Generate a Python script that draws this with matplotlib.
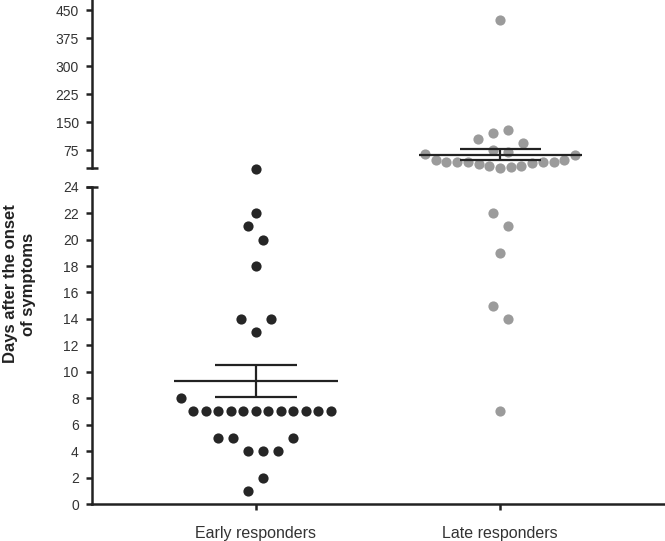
import numpy as np
import matplotlib
matplotlib.use("Agg")
import matplotlib.pyplot as plt

plt.rcParams["font.family"] = ["Liberation Sans", "DejaVu Sans"]

# Values, listed left to right inside each swarm row
categories = ["Early responders", "Late responders"]
early = [1, 2, 5, 5, 4, 4, 4, 5, 8, 7, 7, 7, 7, 7, 7, 7, 7, 7, 7, 7, 7,
         14, 13, 14, 18, 21, 20, 22, 26]
late = [7, 15, 14, 19, 22, 21,
        66, 48, 44, 44, 44, 39, 32, 28, 30, 32, 41, 44, 44, 48, 62,
        104, 75, 71, 95, 122, 129, 423]
groups = [early, late]
colors = ["#262626", "#9b9b9b"]

low_ticks = np.arange(0, 25, 2)
high_ticks = [75, 150, 225, 300, 375, 450]
low_lim = (0, 24)
high_lim = (26.8, 477.6)
break_at = 24

W, H = 665, 541
ink = "#222222"
lw = 1.8

fig = plt.figure(figsize=(W / 100, H / 100), dpi=100)
ax_lo = fig.add_axes([92 / W, 37 / H, 573 / W, 317.3 / H])
ax_hi = fig.add_axes([92 / W, 372.7 / H, 573 / W, 168.3 / H])
xlim = (-0.672, 1.676)


def px_per_unit(ax, lim):
    return ax.get_position().height * H / (lim[1] - lim[0])


def swarm_offsets(vals, ppu, ppx, row_h=15, step=15, max_w=150):
    # rows of points that lie within row_h pixels, spread side by side
    vals = np.asarray(vals, float)
    order = np.argsort(vals, kind="stable")
    offs = np.zeros(len(vals))
    i = 0
    while i < len(order):
        start = vals[order[i]]
        j = i
        while j < len(order) and (vals[order[j]] - start) * ppu <= row_h:
            j += 1
        members = np.sort(order[i:j])
        n = len(members)
        sp = step if n < 2 else min(step, max_w / (n - 1))
        offs[members] = (np.arange(n) - (n - 1) / 2) * sp / ppx
        i = j
    return offs


ppx = ax_lo.get_position().width * W / (xlim[1] - xlim[0])
for ax in (ax_lo, ax_hi):
    ax.set_xlim(*xlim)

ax_lo.set_ylim(*low_lim)
ax_hi.set_ylim(*high_lim)

for x, (vals, c) in enumerate(zip(groups, colors)):
    vals = np.asarray(vals, float)
    for ax, lim, mask in ((ax_lo, low_lim, vals <= break_at),
                          (ax_hi, high_lim, vals > break_at)):
        v = vals[mask]
        offs = swarm_offsets(v, px_per_unit(ax, lim), ppx)
        ax.scatter(x + offs, v, s=54, color=c, linewidths=0,
                   clip_on=False, zorder=3)
    m = vals.mean()
    s = vals.std(ddof=1) / np.sqrt(len(vals))
    ax = ax_lo if m + s <= break_at else ax_hi
    ax.hlines(m, x - 0.334, x + 0.334, color=ink, lw=1.6, zorder=4)
    ax.vlines(x, m - s, m + s, color=ink, lw=1.6, zorder=4)
    ax.hlines([m - s, m + s], x - 0.166, x + 0.166, color=ink, lw=1.6, zorder=4)

# axes styling
for ax in (ax_lo, ax_hi):
    for side in ("top", "right"):
        ax.spines[side].set_visible(False)
    ax.spines["left"].set_linewidth(lw)
    ax.spines["left"].set_color(ink)
    ax.tick_params(axis="y", length=4.5, width=lw, color=ink, labelsize=10,
                   labelcolor="#333333", pad=5)
    ax.patch.set_visible(False)

ax_hi.spines["bottom"].set_visible(False)
ax_hi.set_xticks([])
ax_hi.set_yticks(high_ticks)

ax_lo.spines["bottom"].set_linewidth(lw)
ax_lo.spines["bottom"].set_color(ink)
ax_lo.set_yticks(low_ticks)
ax_lo.set_xticks([0, 1])
ax_lo.set_xticklabels(categories)
ax_lo.tick_params(axis="x", length=4.5, width=lw, color=ink, labelsize=11.5,
                  labelcolor="#333333", pad=11)

# end caps at the axis break
ax_lo.plot([xlim[0]], [low_lim[1]], marker="_", ms=9, mew=lw, color=ink,
           clip_on=False)
ax_hi.plot([xlim[0]], [high_lim[0]], marker="_", ms=9, mew=lw, color=ink,
           clip_on=False)

fig.text(19.5 / W, 1 - 284 / H, "Days after the onset\nof symptoms",
         rotation=90, ha="center", va="center", fontsize=12,
         fontweight="bold", color="#222222", linespacing=1.25)

fig.savefig("out.png", dpi=100)
